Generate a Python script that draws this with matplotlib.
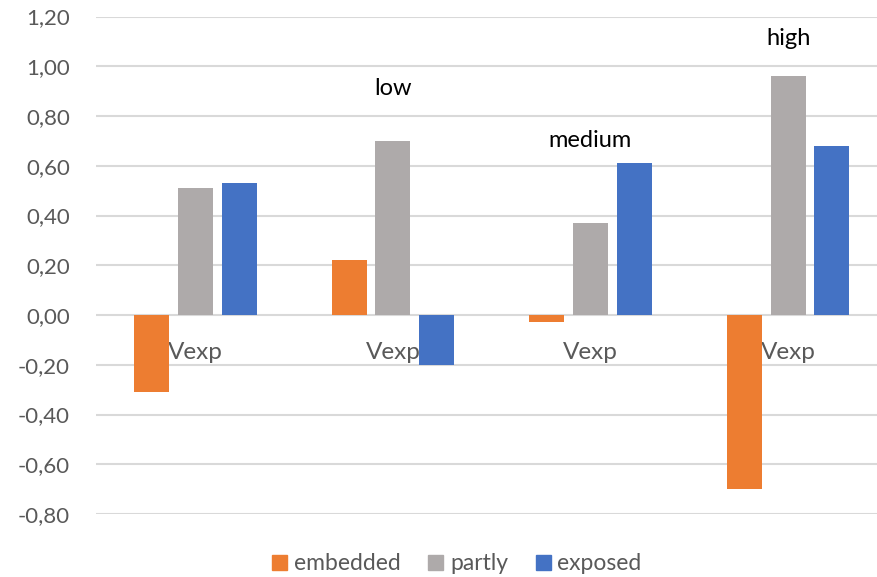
import numpy as np
import matplotlib
matplotlib.use("Agg")
import matplotlib.pyplot as plt
from matplotlib.patches import Patch

plt.rcParams['font.family'] = ['Lato', 'DejaVu Sans']

# Vexp values per group
categories = ["Vexp", "Vexp", "Vexp", "Vexp"]
series = ["embedded", "partly", "exposed"]
embedded = [-0.31, 0.22, -0.03, -0.70]
partly = [0.51, 0.70, 0.37, 0.96]
exposed = [0.53, -0.20, 0.61, 0.68]
levels = ["", "low", "medium", "high"]
level_y = [None, 0.91, 0.70, 1.11]
yticks = [-0.8, -0.6, -0.4, -0.2, 0.0, 0.2, 0.4, 0.6, 0.8, 1.0, 1.2]

colors = ["#ED7D31", "#AEAAAA", "#4472C4"]
grid_col = "#D9D9D9"
text_col = "#595959"

fig = plt.figure(figsize=(8.78, 5.77), dpi=100)
ax = fig.add_axes([96.5 / 878, 63 / 577, 1 - 96.5 / 878, (514 - 16.5) / 577])

x = np.arange(len(categories))
w = 0.177
off = 0.222
for i, (vals, c) in enumerate(zip([embedded, partly, exposed], colors)):
    ax.bar(x + (i - 1) * off, vals, width=w, color=c, zorder=3)

ax.set_ylim(-0.8, 1.2)
ax.set_xlim(-0.5, 3.455)
ax.set_yticks(yticks)
ax.set_yticklabels([f"{v:.2f}".replace(".", ",") for v in yticks])
ax.tick_params(axis='y', length=0, pad=19, labelsize=16, labelcolor=text_col)
ax.set_xticks([])
for s in ax.spines.values():
    s.set_visible(False)
ax.yaxis.grid(True, color=grid_col, linewidth=1.5, zorder=0)
ax.set_axisbelow(True)

# category labels sit just under the zero line
for xi, lab in zip(x, categories):
    ax.text(xi, -0.15, lab, ha='center', va='center', fontsize=17.5,
            color=text_col, zorder=2)

for xi, lab, ly in zip(x, levels, level_y):
    if lab:
        ax.text(xi, ly, lab, ha='center', va='center', fontsize=17,
                color='black', zorder=4)

handles = [Patch(color=c, label=s) for c, s in zip(colors, series)]
fig.legend(handles=handles, loc='center', bbox_to_anchor=(457 / 878, 1 - 564 / 577),
           ncol=3, frameon=False, fontsize=16.5, handlelength=0.65, handleheight=0.65,
           handletextpad=0.3, columnspacing=1.2, labelcolor=text_col)

fig.savefig("out.png", dpi=100)
